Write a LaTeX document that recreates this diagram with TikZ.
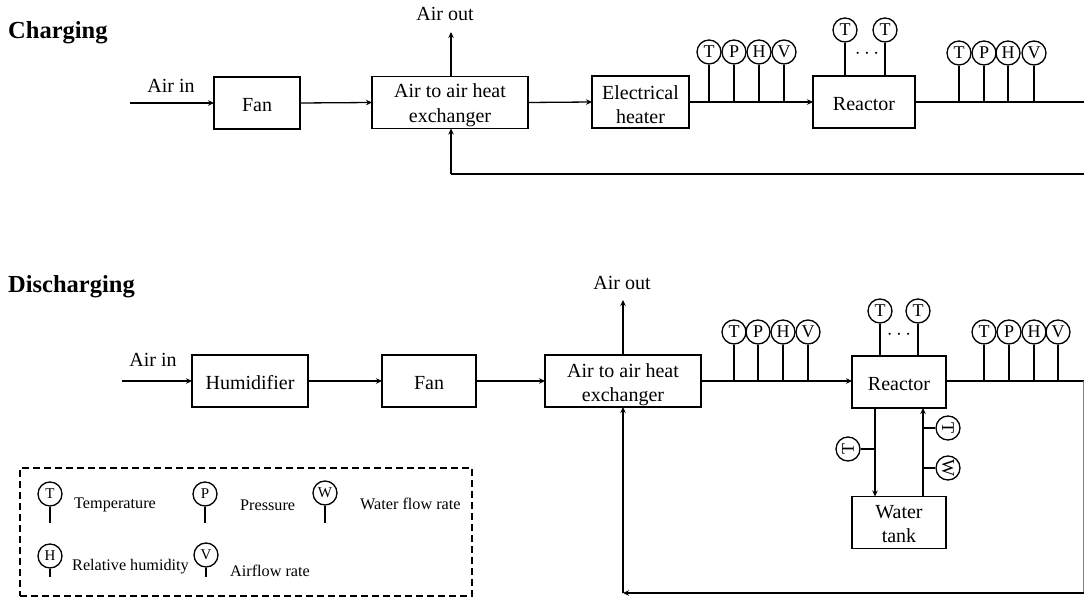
\documentclass[tikz,border=0pt]{standalone}
\usepackage{fontspec}
\setmainfont{Liberation Serif}
\usetikzlibrary{arrows.meta}

\newcommand{\pushdown}[1]{\rule{0pt}{#1}}

\tikzset{
    boxnode/.style={draw, line width=1.5pt, inner sep=0pt, outer sep=0pt, align=center, minimum height=52pt, font=\fontsize{20}{24.5}\selectfont},
    sensor/.style={circle, draw, line width=1.3pt, inner sep=0pt, minimum size=24pt, font=\fontsize{18}{18}\selectfont},
    keysensor/.style={circle, draw, line width=1.3pt, inner sep=0pt, minimum size=24pt, font=\fontsize{15}{15}\selectfont},
    lbl/.style={inner sep=0pt, font=\fontsize{20}{24}\selectfont},
    keylbl/.style={inner sep=0pt, anchor=west, font=\fontsize{16.2}{16}\selectfont},
    heading/.style={inner sep=0pt, anchor=west, font=\fontsize{24.5}{28}\selectfont\bfseries},
    flow/.style={line width=1.3pt, -{Stealth[length=6pt,width=5.5pt]}},
    pipe/.style={line width=1.3pt}
}

\begin{document}
\begin{tikzpicture}[x=1pt, y=-1pt]
    \useasboundingbox (0,0) rectangle (1084,601);

    % Charging
    \node[heading] (ch_title) at (8,33) {Charging};
    \coordinate (ch_in) at (130,103);
    \coordinate (ch_right) at (1084,102);
    \coordinate (ch_corner) at (1084,174);
    \coordinate (ch_up) at (451,174);
    \coordinate (ch_outtip) at (451,32);
    \node[lbl] (ch_inlbl) at (171,86) {Air in};
    \node[lbl] (ch_outlbl) at (445,14) {Air out};

    \node[boxnode, minimum width=86pt] (ch_fan) at (257,103) {\pushdown{18pt}Fan};
    \node[boxnode, minimum width=156pt] (ch_hx) at (450,102.5) {\pushdown{19pt}Air to air heat\\exchanger};
    \node[boxnode, minimum width=97pt] (ch_heater) at (640.5,102) {\pushdown{19pt}Electrical\\heater};
    \node[boxnode, minimum width=102pt] (ch_reactor) at (864,102) {\pushdown{18pt}Reactor};

    \node[sensor] (ch_t1) at (709,52) {T};
    \node[sensor] (ch_p1) at (734,52) {P};
    \node[sensor] (ch_h1) at (759,52) {H};
    \node[sensor] (ch_v1) at (784,52) {V};
    \node[sensor] (ch_t2) at (845,30) {T};
    \node[sensor] (ch_t3) at (885,30) {T};
    \node[lbl] (ch_dots) at (867,54) {$\cdots$};
    \node[sensor] (ch_t4) at (959,53) {T};
    \node[sensor] (ch_p4) at (984,53) {P};
    \node[sensor] (ch_h4) at (1008,53) {H};
    \node[sensor] (ch_v4) at (1034,53) {V};

    \draw[flow] (ch_in) -- (ch_fan.west |- ch_in);
    \draw[flow] (ch_fan.east) -- (ch_hx.west);
    \draw[flow] (ch_hx.east) -- (ch_heater.west);
    \draw[flow] (ch_heater.east) -- (ch_reactor.west);
    \draw[flow] (ch_outtip |- ch_hx.north) -- (ch_outtip);
    \draw[pipe] (ch_reactor.east) -- (ch_right);
    \draw[pipe] (ch_corner) -- (ch_up);
    \draw[flow] (ch_up) -- (ch_up |- ch_hx.south);

    \draw[pipe] (ch_t1) -- (ch_t1 |- ch_heater.east);
    \draw[pipe] (ch_p1) -- (ch_p1 |- ch_heater.east);
    \draw[pipe] (ch_h1) -- (ch_h1 |- ch_heater.east);
    \draw[pipe] (ch_v1) -- (ch_v1 |- ch_heater.east);
    \draw[pipe] (ch_t2) -- (ch_t2 |- ch_reactor.north);
    \draw[pipe] (ch_t3) -- (ch_t3 |- ch_reactor.north);
    \draw[pipe] (ch_t4) -- (ch_t4 |- ch_right);
    \draw[pipe] (ch_p4) -- (ch_p4 |- ch_right);
    \draw[pipe] (ch_h4) -- (ch_h4 |- ch_right);
    \draw[pipe] (ch_v4) -- (ch_v4 |- ch_right);

    % Discharging
    \node[heading] (ds_title) at (8,287) {Discharging};
    \coordinate (ds_in) at (122,381);
    \coordinate (ds_right) at (1083.5,381);
    \coordinate (ds_corner) at (1083.5,593);
    \coordinate (ds_up) at (623,593);
    \coordinate (ds_outtip) at (623,300);
    \node[lbl] (ds_inlbl) at (153,360) {Air in};
    \node[lbl] (ds_outlbl) at (622,283) {Air out};

    \node[boxnode, minimum width=116pt] (ds_hum) at (250,381) {\pushdown{18pt}Humidifier};
    \node[boxnode, minimum width=94pt] (ds_fan) at (429,381) {\pushdown{18pt}Fan};
    \node[boxnode, minimum width=156pt] (ds_hx) at (623,381) {\pushdown{21pt}Air to air heat\\exchanger};
    \node[boxnode, minimum width=94pt] (ds_reactor) at (899,382) {\pushdown{18pt}Reactor};
    \node[boxnode, minimum width=94pt] (ds_tank) at (899,522.5) {\pushdown{16pt}Water\\tank};
    \coordinate (ds_down) at ([xshift=-24pt]ds_reactor.south);
    \coordinate (ds_rise) at ([xshift=24pt]ds_tank.north);

    \node[sensor] (ds_t1) at (734,332) {T};
    \node[sensor] (ds_p1) at (758,332) {P};
    \node[sensor] (ds_h1) at (783,332) {H};
    \node[sensor] (ds_v1) at (808,332) {V};
    \node[sensor] (ds_t2) at (880,311) {T};
    \node[sensor] (ds_t3) at (918,311) {T};
    \node[lbl] (ds_dots) at (899,335) {$\cdots$};
    \node[sensor] (ds_t4) at (984,332) {T};
    \node[sensor] (ds_p4) at (1009,332) {P};
    \node[sensor] (ds_h4) at (1034,332) {H};
    \node[sensor] (ds_v4) at (1058,332) {V};
    \node[sensor, rotate=90] (ds_t5) at (848,449) {T};
    \node[sensor, rotate=-90] (ds_t6) at (948,428) {T};
    \node[sensor, rotate=-90] (ds_w1) at (948,468) {W};

    \draw[flow] (ds_in) -- (ds_hum.west |- ds_in);
    \draw[flow] (ds_hum.east) -- (ds_fan.west);
    \draw[flow] (ds_fan.east) -- (ds_hx.west);
    \draw[flow] (ds_hx.east) -- (ds_reactor.west |- ds_hx.east);
    \draw[flow] (ds_outtip |- ds_hx.north) -- (ds_outtip);
    \draw[pipe] (ds_reactor.east |- ds_right) -- (ds_right);
    \draw[draw=gray, line width=0.8pt] (ds_right) -- (ds_corner);
    \draw[flow] (ds_corner) -- (ds_up);
    \draw[flow] (ds_up) -- (ds_up |- ds_hx.south);
    \draw[flow] (ds_down) -- (ds_down |- ds_tank.north);
    \draw[flow] (ds_rise) -- (ds_rise |- ds_reactor.south);

    \draw[pipe] (ds_t1) -- (ds_t1 |- ds_hx.east);
    \draw[pipe] (ds_p1) -- (ds_p1 |- ds_hx.east);
    \draw[pipe] (ds_h1) -- (ds_h1 |- ds_hx.east);
    \draw[pipe] (ds_v1) -- (ds_v1 |- ds_hx.east);
    \draw[pipe] (ds_t2) -- (ds_t2 |- ds_reactor.north);
    \draw[pipe] (ds_t3) -- (ds_t3 |- ds_reactor.north);
    \draw[pipe] (ds_t4) -- (ds_t4 |- ds_right);
    \draw[pipe] (ds_p4) -- (ds_p4 |- ds_right);
    \draw[pipe] (ds_h4) -- (ds_h4 |- ds_right);
    \draw[pipe] (ds_v4) -- (ds_v4 |- ds_right);
    \draw[pipe] (ds_t5) -- (ds_t5 -| ds_down);
    \draw[pipe] (ds_t6) -- (ds_t6 -| ds_rise);
    \draw[pipe] (ds_w1) -- (ds_w1 -| ds_rise);

    % Legend
    \node[draw, dash pattern=on 7pt off 4pt, line width=1.3pt, minimum width=452pt, minimum height=128pt, inner sep=0pt] (key) at (246,532) {};
    \node[keysensor] (key_t) at (50,494) {T};
    \node[keysensor] (key_p) at (205,494) {P};
    \node[keysensor] (key_w) at (325,493) {W};
    \node[keysensor] (key_h) at (50,556) {H};
    \node[keysensor] (key_v) at (206,555) {V};
    \coordinate (key_top) at (0,523);
    \coordinate (key_bot) at (0,577);
    \draw[pipe] (key_t) -- (key_t |- key_top);
    \draw[pipe] (key_p) -- (key_p |- key_top);
    \draw[pipe] (key_w) -- (key_w |- key_top);
    \draw[pipe] (key_h) -- (key_h |- key_bot);
    \draw[pipe] (key_v) -- (key_v |- key_bot);
    \node[keylbl] (key_tlbl) at (74,505) {Temperature};
    \node[keylbl] (key_plbl) at (240,505) {Pressure};
    \node[keylbl] (key_wlbl) at (360,504) {Water flow rate};
    \node[keylbl] (key_hlbl) at (72,567) {Relative humidity};
    \node[keylbl] (key_vlbl) at (230,571) {Airflow rate};
\end{tikzpicture}
\end{document}
